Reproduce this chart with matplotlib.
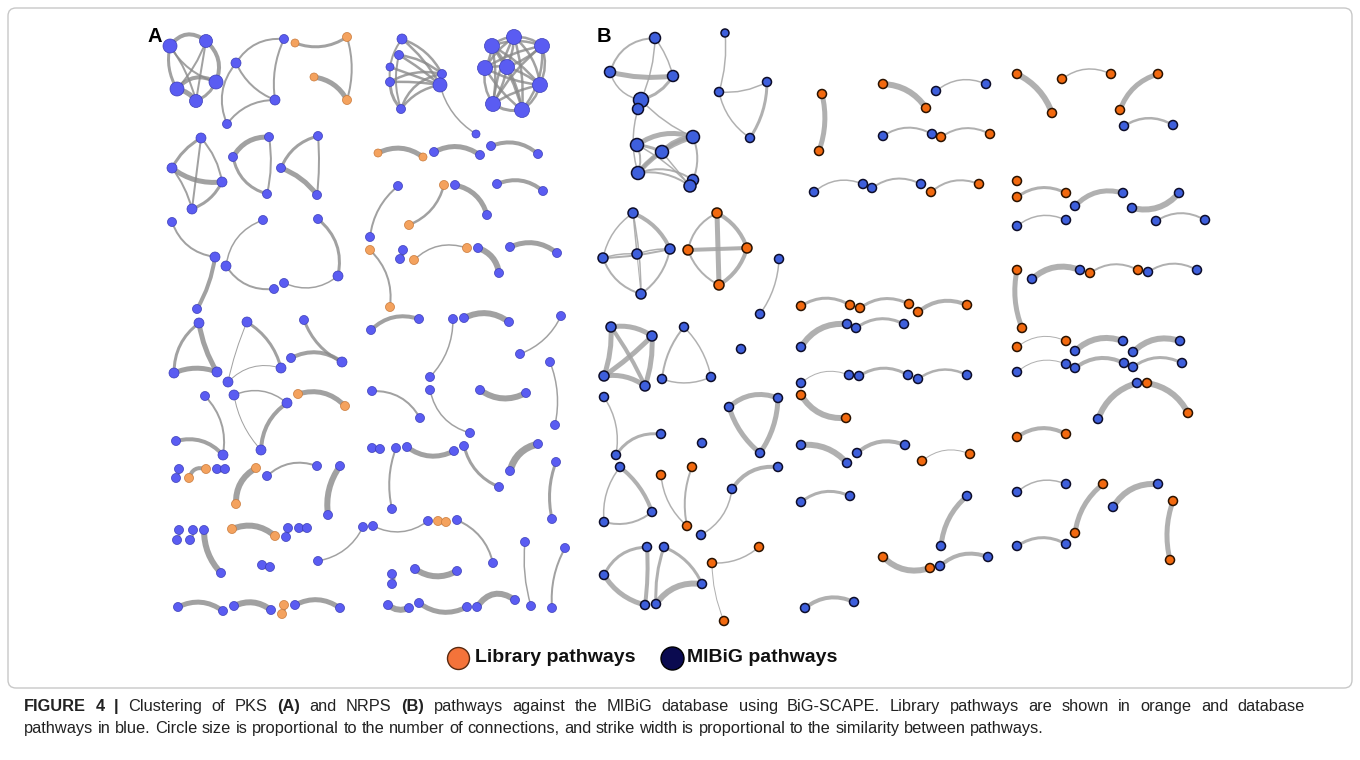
import matplotlib
matplotlib.use("Agg")
import matplotlib.pyplot as plt
from matplotlib.path import Path
from matplotlib.patches import PathPatch, FancyBboxPatch

# ── Node data (pixel positions) ──────────────────────────────────────────────
# (x, y, kind, radius)  kind: "L" = library pathway, "M" = MIBiG pathway
A_NODES = [
    (170, 46, "M", 7), (206, 41, "M", 6.5), (177, 89, "M", 7), (196, 101, "M", 6.5), (216, 82, "M", 7),       # 0-4
    (236, 63, "M", 5), (284, 39, "M", 4.5), (275, 100, "M", 5), (227, 124, "M", 4.5),                         # 5-8
    (295, 43, "L", 4), (347, 37, "L", 4.5), (314, 77, "L", 4), (347, 100, "L", 4.5),                          # 9-12
    (201, 138, "M", 5), (172, 168, "M", 5), (222, 182, "M", 5), (192, 209, "M", 5),                           # 13-16
    (233, 157, "M", 4.5), (269, 137, "M", 4.5), (267, 194, "M", 4.5),                                         # 17-19
    (281, 168, "M", 4.5), (318, 136, "M", 4.5), (317, 195, "M", 4.5),                                         # 20-22
    (402, 39, "M", 5), (399, 55, "M", 4.5), (390, 67, "M", 4), (390, 82, "M", 4.5), (401, 109, "M", 4.5),     # 23-27
    (442, 74, "M", 4.5), (440, 85, "M", 7), (476, 134, "M", 4),                                               # 28-30
    (492, 46, "M", 7.5), (514, 37, "M", 7.5), (542, 46, "M", 7.5), (485, 68, "M", 7.5),                       # 31-34
    (507, 67, "M", 7.5), (540, 85, "M", 7.5), (493, 104, "M", 7.5), (522, 110, "M", 7.5),                     # 35-38
    (378, 153, "L", 4), (423, 157, "L", 4), (434, 152, "M", 4.5), (480, 155, "M", 4.5),                       # 39-42
    (491, 146, "M", 4.5), (538, 154, "M", 4.5), (398, 186, "M", 4.5), (370, 237, "M", 4.5),                   # 43-46
    (444, 185, "L", 4.5), (409, 225, "L", 4.5), (455, 185, "M", 4.5), (487, 215, "M", 4.5),                   # 47-50
    (497, 184, "M", 4.5), (543, 191, "M", 4.5),                                                               # 51-52
    (172, 222, "M", 4.5), (215, 257, "M", 5), (197, 309, "M", 4.5),                                           # 53-55
    (263, 220, "M", 4.5), (226, 266, "M", 5), (274, 289, "M", 4.5),                                           # 56-58
    (318, 219, "M", 4.5), (338, 276, "M", 5), (284, 283, "M", 4.5),                                           # 59-61
    (370, 250, "L", 4.5), (390, 307, "L", 4.5), (403, 250, "M", 4.5), (400, 259, "M", 4.5),                   # 62-65
    (414, 260, "L", 4.5), (467, 248, "L", 4.5), (478, 248, "M", 4.5), (499, 273, "M", 4.5),                   # 66-69
    (510, 247, "M", 4.5), (557, 253, "M", 4.5),                                                               # 70-71
    (199, 323, "M", 5), (174, 373, "M", 5), (217, 372, "M", 5),                                               # 72-74
    (247, 322, "M", 5), (228, 382, "M", 5), (281, 368, "M", 5),                                               # 75-77
    (304, 320, "M", 4.5), (291, 358, "M", 4.5), (342, 362, "M", 5),                                           # 78-80
    (371, 330, "M", 4.5), (419, 319, "M", 4.5), (453, 319, "M", 4.5), (430, 377, "M", 4.5),                   # 81-84
    (464, 318, "M", 4.5), (509, 322, "M", 4.5), (561, 316, "M", 4.5), (520, 354, "M", 4.5),                   # 85-88
    (550, 362, "M", 4.5), (555, 425, "M", 4.5),                                                               # 89-90
    (205, 396, "M", 4.5), (223, 455, "M", 5), (176, 441, "M", 4.5),                                           # 91-93
    (234, 395, "M", 5), (261, 450, "M", 5), (287, 403, "M", 5),                                               # 94-96
    (298, 394, "L", 4.5), (345, 406, "L", 4.5), (372, 391, "M", 4.5), (420, 418, "M", 4.5),                   # 97-100
    (430, 390, "M", 4.5), (470, 433, "M", 4.5), (480, 390, "M", 4.5), (526, 393, "M", 4.5),                   # 101-104
    (179, 469, "M", 4.5), (176, 478, "M", 4.5), (206, 469, "L", 4.5), (189, 478, "L", 4.5),                   # 105-108
    (217, 469, "M", 4.5), (225, 469, "M", 4.5), (256, 468, "L", 4.5), (236, 504, "L", 4.5),                   # 109-112
    (267, 476, "M", 4.5), (317, 466, "M", 4.5), (340, 466, "M", 4.5), (328, 515, "M", 4.5),                   # 113-116
    (372, 448, "M", 4.5), (380, 449, "M", 4.5), (396, 448, "M", 4.5), (392, 509, "M", 4.5),                   # 117-120
    (407, 447, "M", 4.5), (454, 451, "M", 4.5), (464, 446, "M", 4.5), (499, 487, "M", 4.5),                   # 121-124
    (538, 444, "M", 4.5), (510, 471, "M", 4.5), (556, 462, "M", 4.5), (552, 519, "M", 4.5),                   # 125-128
    (179, 530, "M", 4.5), (177, 540, "M", 4.5), (193, 530, "M", 4.5), (190, 540, "M", 4.5),                   # 129-132
    (204, 530, "M", 4.5), (221, 573, "M", 4.5), (232, 529, "L", 4.5), (275, 536, "L", 4.5),                   # 133-136
    (288, 528, "M", 4.5), (286, 537, "M", 4.5), (299, 528, "M", 4.5), (307, 528, "M", 4.5),                   # 137-140
    (262, 565, "M", 4.5), (270, 567, "M", 4.5), (363, 527, "M", 4.5), (318, 561, "M", 4.5),                   # 141-144
    (373, 526, "M", 4.5), (428, 521, "M", 4.5), (438, 521, "L", 4.5), (446, 522, "L", 4.5),                   # 145-148
    (457, 520, "M", 4.5), (493, 563, "M", 4.5), (525, 542, "M", 4.5), (531, 606, "M", 4.5),                   # 149-152
    (565, 548, "M", 4.5), (552, 608, "M", 4.5), (392, 574, "M", 4.5), (392, 584, "M", 4.5),                   # 153-156
    (415, 569, "M", 4.5), (457, 571, "M", 4.5), (178, 607, "M", 4.5), (223, 611, "M", 4.5),                   # 157-160
    (234, 606, "M", 4.5), (271, 610, "M", 4.5), (284, 605, "L", 4.5), (282, 614, "L", 4.5),                   # 161-164
    (295, 605, "M", 4.5), (340, 608, "M", 4.5), (388, 605, "M", 4.5), (409, 608, "M", 4.5),                   # 165-168
    (419, 603, "M", 4.5), (467, 607, "M", 4.5), (477, 607, "M", 4.5), (515, 600, "M", 4.5),                   # 169-172
]

# (node i, node j, similarity width in px, bend)
A_EDGES = [
    (0, 1, 4, 0.5), (0, 2, 3, -0.2), (0, 3, 2, 0.1), (0, 4, 2, -0.2), (1, 2, 2, 0.1), (1, 3, 2, 0.0),
    (1, 4, 4, 0.35), (2, 3, 5, 0.2), (2, 4, 4, 0.4), (3, 4, 3, -0.2),
    (5, 6, 2, 0.3), (6, 7, 2, -0.15), (5, 7, 2, -0.2), (8, 7, 2, 0.25), (8, 5, 2, 0.3),
    (9, 10, 3, -0.25), (10, 12, 2, 0.15), (11, 12, 5, 0.25),
    (13, 14, 3, -0.15), (13, 15, 2, 0.15), (13, 16, 2, 0.0), (14, 15, 5, -0.2), (14, 16, 2, 0.1), (15, 16, 3, 0.2),
    (17, 18, 5, 0.3), (18, 19, 2, 0.1), (17, 19, 3, -0.3),
    (20, 21, 3, 0.25), (21, 22, 2, 0.05), (20, 22, 5, 0.15),
    (23, 28, 2.5, 0.2), (23, 29, 2.5, 0.1), (24, 28, 2.5, 0.15), (24, 29, 2.5, 0.05), (25, 29, 2.5, 0.0),
    (26, 28, 2.5, 0.2), (26, 29, 2.5, 0.05), (27, 29, 2.5, 0.2), (27, 28, 2.5, 0.3), (23, 26, 2, -0.2),
    (24, 27, 2, -0.15), (26, 27, 3, -0.2), (29, 30, 1.5, -0.2),
    (31, 32, 2.5, 0.2), (31, 33, 2.5, 0.2), (31, 34, 2.5, 0.1), (31, 35, 2.5, 0.1), (31, 36, 2.5, 0.1),
    (31, 37, 2.5, 0.1), (31, 38, 2.5, 0.1), (32, 33, 2.5, 0.2), (32, 34, 2.5, -0.1), (32, 35, 2.5, 0.1),
    (32, 36, 2.5, 0.2), (32, 37, 2.5, -0.1), (32, 38, 2.5, 0.1), (33, 34, 2.5, -0.1), (33, 35, 2.5, 0.1),
    (33, 36, 2.5, 0.2), (33, 37, 2.5, -0.1), (33, 38, 2.5, 0.2), (34, 35, 2.5, 0.1), (34, 36, 2.5, -0.1),
    (34, 37, 2.5, -0.2), (34, 38, 2.5, -0.1), (35, 36, 2.5, 0.1), (35, 37, 2.5, 0.1), (35, 38, 2.5, 0.1),
    (36, 37, 2.5, -0.1), (36, 38, 2.5, 0.2), (37, 38, 3, -0.2),
    (39, 40, 5, 0.3), (41, 42, 5, 0.3), (43, 44, 4, 0.3), (45, 46, 2, -0.2), (47, 48, 2.5, 0.25), (49, 50, 5, 0.3),
    (51, 52, 4, 0.3),
    (53, 54, 2, -0.3), (54, 55, 4, 0.1), (56, 57, 1.5, -0.3), (57, 58, 2, -0.3), (59, 60, 3, 0.3), (60, 61, 1.5, 0.3),
    (62, 63, 2, 0.25), (64, 65, 3, 0.3), (66, 67, 1.5, 0.3), (68, 69, 6, 0.3), (70, 71, 5, 0.3),
    (72, 73, 3, -0.25), (72, 74, 5, -0.1), (73, 74, 5, 0.2),
    (75, 76, 1, -0.05), (75, 77, 3, 0.2), (76, 77, 1, 0.3), (78, 80, 3, -0.2), (79, 80, 4, 0.3),
    (81, 82, 4, 0.3), (83, 84, 1.5, 0.2), (85, 86, 6, 0.3), (87, 88, 1.5, 0.2), (89, 90, 1.5, 0.15),
    (91, 92, 2, 0.25), (93, 92, 4, 0.3), (94, 95, 1, -0.15), (95, 96, 4, 0.25), (94, 96, 1.5, 0.3),
    (97, 98, 5, 0.3), (99, 100, 2, 0.3), (101, 102, 1.5, -0.3), (103, 104, 6, -0.3),
    (105, 106, 2, 0.3), (107, 108, 4, -0.5), (109, 110, 3, -0.5), (111, 112, 6, -0.3), (113, 114, 2, 0.3),
    (115, 116, 6, -0.2), (117, 118, 3, -0.4), (119, 120, 2, -0.15), (121, 122, 5, -0.3), (123, 124, 3, -0.25),
    (125, 126, 7, -0.3), (127, 128, 3, -0.15),
    (129, 130, 2, 0.3), (131, 132, 2, 0.3), (133, 134, 6, -0.2), (135, 136, 6, 0.3), (137, 138, 2, 0.3),
    (139, 140, 3, -0.5), (141, 142, 3, -0.5), (143, 144, 1.5, 0.25), (145, 146, 1.5, -0.3), (147, 148, 3, -0.4),
    (149, 150, 2, 0.25), (151, 152, 1.5, -0.1), (153, 154, 2, -0.15), (155, 156, 3, 0.4), (157, 158, 6, -0.3),
    (159, 160, 5, 0.3), (161, 162, 6, 0.3), (163, 164, 3, 0.3), (165, 166, 5, 0.3), (167, 168, 6, -0.3),
    (169, 170, 5, -0.3), (171, 172, 6, 0.5),
]

B_NODES = [
    (655, 38, "M", 5.5), (610, 72, "M", 5.5), (673, 76, "M", 5.5), (641, 100, "M", 7.5), (638, 109, "M", 5.5),  # 0-4
    (693, 137, "M", 6.5), (637, 145, "M", 6.5), (662, 152, "M", 6.5), (638, 173, "M", 6.5),                   # 5-8
    (693, 180, "M", 5.5), (690, 186, "M", 6),                                                                 # 9-10
    (725, 33, "M", 4), (719, 92, "M", 4.5), (767, 82, "M", 4.5), (750, 138, "M", 4.5),                        # 11-14
    (633, 213, "M", 5), (603, 258, "M", 5), (637, 254, "M", 5), (670, 249, "M", 5), (641, 294, "M", 5),       # 15-19
    (717, 213, "L", 5), (688, 250, "L", 5), (747, 248, "L", 5), (719, 285, "L", 5),                           # 20-23
    (779, 259, "M", 4.5), (760, 314, "M", 4.5),                                                               # 24-25
    (611, 327, "M", 5), (652, 336, "M", 5), (604, 376, "M", 5), (645, 386, "M", 5),                           # 26-29
    (684, 327, "M", 4.5), (662, 379, "M", 4.5), (711, 377, "M", 4.5), (741, 349, "M", 4.5),                   # 30-33
    (604, 397, "M", 4.5), (616, 455, "M", 4.5), (661, 434, "M", 4.5),                                         # 34-36
    (729, 407, "M", 4.5), (778, 398, "M", 4.5), (760, 453, "M", 4.5), (702, 443, "M", 4.5),                   # 37-40
    (620, 467, "M", 4.5), (604, 522, "M", 4.5), (652, 512, "M", 4.5),                                         # 41-43
    (661, 475, "L", 4.5), (692, 467, "L", 4.5), (687, 526, "L", 4.5),                                         # 44-46
    (778, 467, "M", 4.5), (732, 489, "M", 4.5), (701, 535, "M", 4.5),                                         # 47-49
    (647, 547, "M", 4.5), (604, 575, "M", 4.5), (645, 605, "M", 4.5),                                         # 50-52
    (664, 547, "M", 4.5), (656, 604, "M", 4.5), (702, 584, "M", 4.5),                                         # 53-55
    (712, 563, "L", 4.5), (759, 547, "L", 4.5), (724, 621, "L", 4.5),                                         # 56-58
    (822, 94, "L", 4.5), (819, 151, "L", 4.5), (883, 84, "L", 4.5), (926, 108, "L", 4.5),                     # 59-62
    (936, 91, "M", 4.5), (986, 84, "M", 4.5), (883, 136, "M", 4.5), (932, 134, "M", 4.5),                     # 63-66
    (941, 137, "L", 4.5), (990, 134, "L", 4.5), (814, 192, "M", 4.5), (863, 184, "M", 4.5),                   # 67-70
    (872, 188, "M", 4.5), (921, 184, "M", 4.5), (931, 192, "L", 4.5), (979, 184, "L", 4.5),                   # 71-74
    (801, 306, "L", 4.5), (850, 305, "L", 4.5), (860, 308, "L", 4.5), (909, 304, "L", 4.5),                   # 75-78
    (918, 312, "L", 4.5), (967, 305, "L", 4.5), (801, 347, "M", 4.5), (847, 324, "M", 4.5),                   # 79-82
    (856, 328, "M", 4.5), (904, 324, "M", 4.5), (801, 383, "M", 4.5), (849, 375, "M", 4.5),                   # 83-86
    (859, 376, "M", 4.5), (908, 375, "M", 4.5), (918, 379, "M", 4.5), (967, 375, "M", 4.5),                   # 87-90
    (801, 395, "L", 4.5), (846, 418, "L", 4.5), (801, 445, "M", 4.5), (847, 463, "M", 4.5),                   # 91-94
    (857, 453, "M", 4.5), (905, 445, "M", 4.5), (922, 461, "L", 4.5), (970, 454, "L", 4.5),                   # 95-98
    (801, 502, "M", 4.5), (850, 496, "M", 4.5), (967, 496, "M", 4.5), (941, 546, "M", 4.5),                   # 99-102
    (883, 557, "L", 4.5), (930, 568, "L", 4.5), (940, 566, "M", 4.5), (988, 557, "M", 4.5),                   # 103-106
    (805, 608, "M", 4.5), (854, 602, "M", 4.5),                                                               # 107-108
    (1017, 74, "L", 4.5), (1052, 113, "L", 4.5), (1062, 79, "L", 4.5), (1111, 74, "L", 4.5),                  # 109-112
    (1158, 74, "L", 4.5), (1120, 110, "L", 4.5), (1124, 126, "M", 4.5), (1173, 125, "M", 4.5),                # 113-116
    (1017, 181, "L", 4.5), (1017, 197, "L", 4.5), (1066, 193, "L", 4.5), (1075, 206, "M", 4.5),               # 117-120
    (1123, 193, "M", 4.5), (1132, 208, "M", 4.5), (1179, 193, "M", 4.5), (1017, 226, "M", 4.5),               # 121-124
    (1066, 220, "M", 4.5), (1156, 221, "M", 4.5), (1205, 220, "M", 4.5), (1017, 270, "L", 4.5),               # 125-128
    (1022, 328, "L", 4.5), (1032, 279, "M", 4.5), (1080, 270, "M", 4.5), (1090, 273, "L", 4.5),               # 129-132
    (1138, 270, "L", 4.5), (1148, 272, "M", 4.5), (1197, 270, "M", 4.5), (1017, 347, "L", 4.5),               # 133-136
    (1066, 341, "L", 4.5), (1075, 351, "M", 4.5), (1123, 341, "M", 4.5), (1133, 352, "M", 4.5),               # 137-140
    (1180, 341, "M", 4.5), (1017, 372, "M", 4.5), (1066, 364, "M", 4.5), (1075, 368, "M", 4.5),               # 141-144
    (1124, 363, "M", 4.5), (1133, 367, "M", 4.5), (1182, 363, "M", 4.5), (1137, 383, "M", 4.5),               # 145-148
    (1147, 383, "L", 4.5), (1098, 419, "M", 4.5), (1188, 413, "L", 4.5), (1017, 437, "L", 4.5),               # 149-152
    (1066, 434, "L", 4.5), (1017, 492, "M", 4.5), (1066, 484, "M", 4.5), (1103, 484, "L", 4.5),               # 153-156
    (1075, 533, "L", 4.5), (1113, 507, "M", 4.5), (1158, 484, "M", 4.5), (1173, 501, "L", 4.5),               # 157-160
    (1170, 560, "L", 4.5), (1017, 546, "M", 4.5), (1066, 544, "M", 4.5),                                      # 161-163
]

B_EDGES = [
    (0, 1, 2, -0.35), (0, 2, 1.5, 0.1), (1, 2, 5, -0.1), (1, 3, 1.5, -0.3), (2, 3, 3, 0.2), (0, 3, 1.5, 0.1),
    (3, 5, 1.5, -0.1), (4, 8, 1.5, -0.15), (6, 5, 5, 0.25), (6, 7, 3, 0.1), (7, 5, 5, 0.2), (8, 5, 5, 0.15),
    (8, 7, 3, 0.1), (8, 9, 2, 0.25), (8, 10, 2, 0.2), (7, 10, 1.5, 0.0), (5, 9, 2, 0.2), (6, 8, 2, 0.2),
    (6, 10, 1.5, 0.1),
    (11, 12, 1.5, 0.1), (12, 13, 1.5, -0.15), (13, 14, 3, 0.15), (12, 14, 1.5, -0.2),
    (15, 16, 1.5, -0.2), (15, 17, 1.5, 0.0), (15, 18, 4, 0.2), (15, 19, 1.5, 0.05), (16, 17, 1.5, 0.1),
    (16, 18, 2, -0.05), (16, 19, 2, -0.25), (17, 18, 1.5, 0.1), (18, 19, 2, 0.2), (17, 19, 1, 0.0),
    (20, 21, 2, -0.25), (20, 22, 4, 0.2), (20, 23, 5, 0.0), (21, 22, 4, 0.0), (21, 23, 2, -0.2), (22, 23, 4, 0.2),
    (24, 25, 1.5, 0.15),
    (26, 27, 5, 0.2), (26, 28, 5, 0.1), (26, 29, 4, 0.05), (27, 28, 5, 0.05), (27, 29, 5, 0.1), (28, 29, 5, 0.2),
    (30, 31, 2, -0.15), (30, 32, 1.5, 0.15), (31, 32, 1.5, -0.2),
    (34, 35, 1.5, 0.2), (35, 36, 3, 0.3), (37, 38, 5, 0.3), (38, 39, 5, 0.15), (37, 39, 5, -0.15),
    (41, 42, 1.5, -0.2), (41, 43, 4, 0.15), (42, 43, 2, -0.25), (44, 46, 1.5, -0.2), (45, 46, 2, -0.15),
    (48, 47, 4, 0.3), (49, 48, 1.5, -0.25), (51, 50, 3, 0.3), (50, 52, 4, 0.05), (51, 52, 5, -0.2),
    (53, 54, 3, -0.1), (53, 55, 3, 0.2), (54, 55, 6, 0.3), (56, 57, 1.5, -0.2), (56, 58, 1, -0.1),
    (59, 60, 5, 0.15), (61, 62, 6, 0.25), (63, 64, 1.5, 0.3), (65, 66, 2, 0.3), (67, 68, 2, 0.3),
    (69, 70, 1.5, 0.3), (71, 72, 2, 0.3), (73, 74, 2, 0.3), (75, 76, 3, 0.3), (77, 78, 3, 0.3),
    (79, 80, 4, 0.3), (81, 82, 6, 0.3), (83, 84, 3, 0.3), (85, 86, 1, 0.3), (87, 88, 3, 0.3),
    (89, 90, 2.5, 0.3), (91, 92, 6, -0.3), (93, 94, 6, 0.25), (95, 96, 4, 0.3), (97, 98, 1, 0.3),
    (99, 100, 3, 0.3), (101, 102, 5, -0.2), (103, 104, 6, -0.3), (105, 106, 4, 0.3), (107, 108, 4, 0.3),
    (109, 110, 6, 0.2), (111, 112, 1.5, 0.3), (113, 114, 5, -0.25), (115, 116, 2.5, 0.3), (118, 119, 3, 0.3),
    (120, 121, 5, 0.3), (122, 123, 6, -0.3), (124, 125, 1.5, 0.3), (126, 127, 2, 0.3), (128, 129, 5, -0.15),
    (130, 131, 6, 0.3), (132, 133, 2, 0.3), (134, 135, 2, 0.3), (136, 137, 1, 0.3), (138, 139, 6, 0.3),
    (140, 141, 6, 0.3), (142, 143, 1, 0.3), (144, 145, 4, 0.3), (146, 147, 3, 0.3), (148, 150, 6, -0.25),
    (149, 151, 6, 0.25), (152, 153, 4, 0.3), (154, 155, 1.5, 0.3), (156, 157, 5, -0.2), (158, 159, 6, 0.3),
    (160, 161, 5, -0.15), (162, 163, 3, 0.3),
]

LEGEND_LABELS = ["Library pathways", "MIBiG pathways"]

CAPTION = [
    [("FIGURE 4 |", True), ("Clustering of PKS", False), ("(A)", True), ("and NRPS", False), ("(B)", True),
     ("pathways against the MIBiG database using BiG-SCAPE. Library pathways are shown in orange and database", False)],
    [("pathways in blue. Circle size is proportional to the number of connections, and strike width is "
      "proportional to the similarity between pathways.", False)],
]

# ── Styles ───────────────────────────────────────────────────────────────────
STYLE = {
    "A": {"M": ("#5A5CF2", "#3B3DB8", 0.5), "L": ("#F4A25E", "#C9793A", 0.5), "edge": "#8A8A8A", "alpha": 0.8},
    "B": {"M": ("#3E5FDC", "#0D0D2A", 1.1), "L": ("#F2690F", "#2A1200", 1.1), "edge": "#A3A3A3", "alpha": 0.85},
}
PX = 0.72  # points per pixel at dpi=100


def draw_network(ax, nodes, edges, st):
    for i, j, w, bend in edges:
        x0, y0 = nodes[i][:2]
        x1, y1 = nodes[j][:2]
        dx, dy = x1 - x0, y1 - y0
        cx = (x0 + x1) / 2 + bend * dy
        cy = (y0 + y1) / 2 - bend * dx
        path = Path([(x0, y0), (cx, cy), (x1, y1)], [Path.MOVETO, Path.CURVE3, Path.CURVE3])
        ax.add_patch(PathPatch(path, fill=False, lw=w * PX, edgecolor=st["edge"],
                               alpha=st["alpha"], capstyle="round", zorder=2))
    for kind in ("M", "L"):
        fc, ec, lw = st[kind]
        pts = [n for n in nodes if n[2] == kind]
        ax.scatter([p[0] for p in pts], [p[1] for p in pts],
                   s=[(2 * p[3] * PX) ** 2 for p in pts],
                   c=fc, edgecolors=ec, linewidths=lw, zorder=3)


# ── Canvas ───────────────────────────────────────────────────────────────────
fig = plt.figure(figsize=(13.6, 7.6), dpi=100)
fig.patch.set_facecolor("white")
ax = fig.add_axes([0, 0, 1, 1])
ax.set_xlim(0, 1360)
ax.set_ylim(760, 0)
ax.axis("off")

ax.add_patch(FancyBboxPatch((8, 8), 1344, 680, boxstyle="round,pad=0,rounding_size=8",
                            fill=False, edgecolor="#C8C8C8", lw=1.0, zorder=1))

draw_network(ax, A_NODES, A_EDGES, STYLE["A"])
draw_network(ax, B_NODES, B_EDGES, STYLE["B"])

ax.text(148, 36, "A", fontsize=14.5, fontweight="bold", ha="left", va="center",
        family="Liberation Sans", color="black")
ax.text(597, 36, "B", fontsize=14.5, fontweight="bold", ha="left", va="center",
        family="Liberation Sans", color="black")

# ── Legend ───────────────────────────────────────────────────────────────────
ax.scatter([458], [658], s=(22 * PX) ** 2, c="#F4733A", edgecolors="#5A2A10", linewidths=1.0, zorder=3)
ax.scatter([672], [658], s=(23 * PX) ** 2, c="#0A0A50", edgecolors="#000000", linewidths=1.0, zorder=3)
ax.text(475, 658, LEGEND_LABELS[0], fontsize=14, fontweight="bold", va="center", ha="left",
        family="Liberation Sans", color="#111111")
ax.text(687, 658, LEGEND_LABELS[1], fontsize=14, fontweight="bold", va="center", ha="left",
        family="Liberation Sans", color="#111111")

# ── Caption: justified first line, mixed bold runs ──────────────────────────
renderer = fig.canvas.get_renderer()
CAP_FS = 11.8
CAP_X0, CAP_X1 = 24, 1305
baseline_y = [711, 733]


def measure(word, bold):
    t = ax.text(0, -100, word, fontsize=CAP_FS, fontweight="bold" if bold else "normal",
                family="Liberation Sans")
    w = t.get_window_extent(renderer=renderer).width
    t.remove()
    return w


space_w = measure("a a", False) - measure("aa", False)
for k, (runs, y) in enumerate(zip(CAPTION, baseline_y)):
    words = [(w, b) for txt, b in runs for w in txt.split(" ") if w]
    widths = [measure(w, b) for w, b in words]
    justify = k < len(CAPTION) - 1
    gap = (CAP_X1 - CAP_X0 - sum(widths)) / (len(words) - 1) if justify else space_w
    x = CAP_X0
    for (w, b), wd in zip(words, widths):
        ax.text(x, y, w, fontsize=CAP_FS, fontweight="bold" if b else "normal",
                family="Liberation Sans", color="#222222", ha="left", va="baseline")
        x += wd + gap

fig.savefig("out.png", dpi=100, facecolor="white")
